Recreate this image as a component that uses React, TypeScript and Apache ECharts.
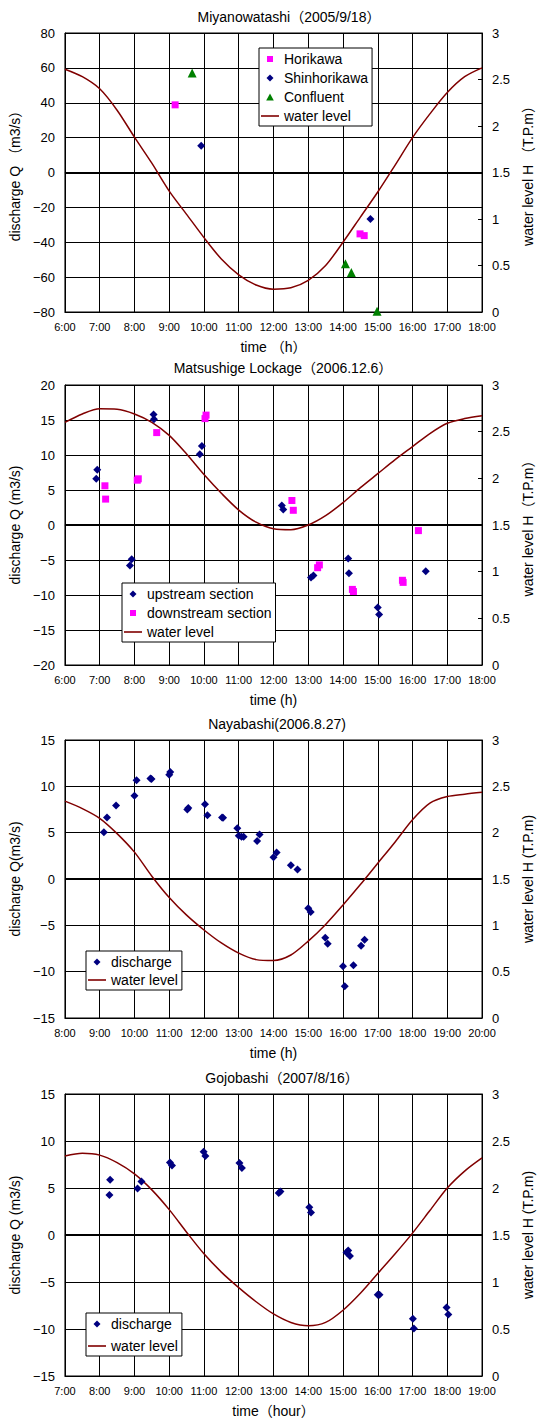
import React, { useEffect, useRef } from 'react';
import * as echarts from 'echarts';

const FONT = "'Liberation Sans', 'Noto Sans CJK JP', sans-serif";

// ---------- Panel 1: Miyanowatashi ----------
const miyaLevelTime = [6, 6.5, 7, 7.5, 8, 8.5, 9, 9.5, 10, 10.5, 11, 11.5, 12, 12.5, 13, 13.5, 14, 14.5, 15, 15.5, 16, 16.5, 17, 17.5, 18];
const miyaLevel = [2.61, 2.53, 2.4, 2.17, 1.88, 1.6, 1.3, 1.05, 0.8, 0.57, 0.4, 0.29, 0.245, 0.26, 0.34, 0.5, 0.75, 1.02, 1.29, 1.58, 1.875, 2.13, 2.36, 2.53, 2.625];
const horiT = [9.17, 14.49, 14.61];
const horiQ = [38.8, -35.2, -36.2];
const shinT = [9.92, 14.79];
const shinQ = [15.4, -26.7];
const confT = [9.66, 14.07, 14.24, 14.98];
const confQ = [57.0, -52.3, -57.4, -79.5];

// ---------- Panel 2: Matsushige Lockage ----------
const matsuLevelTime = [6, 6.5, 7, 7.5, 8, 8.5, 9, 9.5, 10, 10.5, 11, 11.5, 12, 12.5, 13, 13.5, 14, 14.5, 15, 15.5, 16, 16.5, 17, 17.5, 18];
const matsuLevel = [2.6, 2.69, 2.745, 2.74, 2.69, 2.6, 2.46, 2.26, 2.04, 1.84, 1.66, 1.53, 1.46, 1.45, 1.5, 1.6, 1.74, 1.9, 2.05, 2.2, 2.34, 2.48, 2.59, 2.64, 2.67];
const upT = [6.9, 6.93, 7.87, 7.92, 8.55, 8.56, 9.88, 9.94, 12.24, 12.28, 13.08, 13.15, 14.15, 14.17, 15.0, 15.04, 16.38];
const upQ = [6.6, 7.9, -5.8, -4.9, 15.8, 15.1, 10.1, 11.3, 2.8, 2.2, -7.5, -7.2, -4.8, -6.9, -11.8, -12.8, -6.6];
const downT = [7.15, 7.17, 8.08, 8.11, 8.64, 10.03, 10.06, 12.53, 12.57, 13.27, 13.32, 14.27, 14.3, 15.71, 15.73, 16.17];
const downQ = [5.6, 3.7, 6.4, 6.6, 13.2, 15.2, 15.7, 3.5, 2.1, -6.1, -5.7, -9.2, -9.5, -7.9, -8.2, -0.8];

// ---------- Panel 3: Nayabashi ----------
const nayaLevelTime = [8, 8.5, 9, 9.5, 10, 10.5, 11, 11.5, 12, 12.5, 13, 13.5, 14, 14.5, 15, 15.5, 16, 16.5, 17, 17.5, 18, 18.5, 19, 19.5, 20];
const nayaLevel = [2.34, 2.26, 2.155, 1.99, 1.79, 1.53, 1.3, 1.11, 0.95, 0.81, 0.7, 0.63, 0.62, 0.68, 0.83, 1.01, 1.22, 1.44, 1.67, 1.9, 2.14, 2.32, 2.39, 2.415, 2.435];
const nayaT = [9.12, 9.21, 9.47, 10.0, 10.06, 10.46, 10.49, 11.0, 11.03, 11.52, 11.55, 12.03, 12.1, 12.52, 12.55, 12.96, 13.0, 13.08, 13.14, 13.53, 13.6, 14.0, 14.09, 14.5, 14.69, 15.0, 15.07, 15.49, 15.56, 16.0, 16.05, 16.3, 16.52, 16.62];
const nayaQ = [5.05, 6.65, 7.93, 8.99, 10.65, 10.85, 10.78, 11.25, 11.55, 7.5, 7.65, 8.06, 6.87, 6.65, 6.6, 5.47, 4.67, 4.56, 4.55, 4.09, 4.8, 2.35, 2.87, 1.48, 1.02, -3.15, -3.55, -6.35, -6.98, -9.42, -11.58, -9.32, -7.19, -6.55];

// ---------- Panel 4: Gojobashi ----------
const gojoLevelTime = [7, 7.5, 8, 8.5, 9, 9.5, 10, 10.5, 11, 11.5, 12, 12.5, 13, 13.5, 14, 14.5, 15, 15.5, 16, 16.5, 17, 17.5, 18, 18.5, 19];
const gojoLevel = [2.34, 2.37, 2.35, 2.27, 2.15, 1.98, 1.77, 1.53, 1.3, 1.105, 0.94, 0.79, 0.66, 0.57, 0.535, 0.57, 0.7, 0.88, 1.09, 1.3, 1.52, 1.76, 2.0, 2.18, 2.32];
const gojoT = [8.28, 8.3, 9.09, 9.2, 10.02, 10.08, 10.99, 11.04, 12.02, 12.09, 13.15, 13.2, 14.03, 14.08, 15.1, 15.15, 15.2, 16.0, 16.05, 17.01, 17.04, 17.98, 18.03];
const gojoQ = [4.25, 5.89, 4.96, 5.68, 7.7, 7.39, 8.85, 8.4, 7.65, 7.14, 4.46, 4.64, 2.96, 2.39, -1.87, -1.66, -2.23, -6.36, -6.36, -8.9, -9.95, -7.7, -8.45];

const NAVY = '#000080';
const MAGENTA = '#FF00FF';
const GREEN = '#008000';
const RED = '#800000';

// Legend icons: the bounding frame (0..18 x 0..8) equals itemWidth x itemHeight, so nothing is stretched.
const FRAME = 'M0,0L0,0M18,8L18,8';
const LEGEND_ICONS: Record<string, string> = {
  line: 'path://M0,3.2L18,3.2L18,4.8L0,4.8Z',
  rect: `path://${FRAME}M6,1L12,1L12,7L6,7Z`,
  diamond: `path://${FRAME}M9,0.5L12.5,4L9,7.5L5.5,4Z`,
  triangle: `path://${FRAME}M9,0.5L12.8,7.5L5.2,7.5Z`,
};

const pairs = (xs: number[], ys: number[]) => xs.map((x, i) => [x, ys[i]]);

type SDef = { name: string; kind: 'scatter' | 'line'; x: number[]; y: number[]; symbol?: string; size?: number; color: string };

const panels = [
  {
    grid: { left: 63, top: 33, width: 429, height: 279 },
    xMin: 6, xMax: 18, yMin: -80, yMax: 80, yInt: 20,
    title: 'Miyanowatashi（2005/9/18）', titleX: 289, titleY: 17,
    yName: 'discharge Q （m3/s）', rName: 'water level H （T.P.m）', xName: 'time （h）',
    legend: { left: 259, top: 48, gap: 5 },
    series: [
      { name: 'Horikawa', kind: 'scatter', x: horiT, y: horiQ, symbol: 'rect', size: 7, color: MAGENTA },
      { name: 'Shinhorikawa', kind: 'scatter', x: shinT, y: shinQ, symbol: 'diamond', size: 8, color: NAVY },
      { name: 'Confluent', kind: 'scatter', x: confT, y: confQ, symbol: 'triangle', size: 9, color: GREEN },
      { name: 'water level', kind: 'line', x: miyaLevelTime, y: miyaLevel, color: RED },
    ] as SDef[],
  },
  {
    grid: { left: 58, top: 385, width: 432, height: 280 },
    xMin: 6, xMax: 18, yMin: -20, yMax: 20, yInt: 5,
    title: 'Matsushige Lockage（2006.12.6）', titleX: 283, titleY: 368,
    yName: 'discharge Q (m3/s)', rName: 'water level H（T.P.m）', xName: 'time (h)',
    legend: { left: 122, top: 583, gap: 5 },
    series: [
      { name: 'upstream section', kind: 'scatter', x: upT, y: upQ, symbol: 'diamond', size: 8, color: NAVY },
      { name: 'downstream section', kind: 'scatter', x: downT, y: downQ, symbol: 'rect', size: 7, color: MAGENTA },
      { name: 'water level', kind: 'line', x: matsuLevelTime, y: matsuLevel, color: RED },
    ] as SDef[],
  },
  {
    grid: { left: 64, top: 740, width: 427, height: 278 },
    xMin: 8, xMax: 20, yMin: -15, yMax: 15, yInt: 5,
    title: 'Nayabashi(2006.8.27)', titleX: 277, titleY: 724,
    yName: 'discharge Q(m3/s)', rName: 'water level H (T.P.m)', xName: 'time (h)',
    legend: { left: 86, top: 951, gap: 4 },
    series: [
      { name: 'discharge', kind: 'scatter', x: nayaT, y: nayaQ, symbol: 'diamond', size: 8, color: NAVY },
      { name: 'water level', kind: 'line', x: nayaLevelTime, y: nayaLevel, color: RED },
    ] as SDef[],
  },
  {
    grid: { left: 60, top: 1094, width: 430, height: 283 },
    xMin: 7, xMax: 19, yMin: -15, yMax: 15, yInt: 5,
    title: 'Gojobashi（2007/8/16）', titleX: 282, titleY: 1078,
    yName: 'discharge Q (m3/s)', rName: 'water level H (T.P.m)', xName: 'time（hour）',
    legend: { left: 86, top: 1313, gap: 8 },
    series: [
      { name: 'discharge', kind: 'scatter', x: gojoT, y: gojoQ, symbol: 'diamond', size: 8, color: NAVY },
      { name: 'water level', kind: 'line', x: gojoLevelTime, y: gojoLevel, color: RED },
    ] as SDef[],
  },
];

const minus = (v: number) => String(v).replace('-', '−');

function buildOption() {
  const grid = panels.map((p) => ({ ...p.grid, show: true, borderColor: '#000', borderWidth: 1, backgroundColor: '#fff', containLabel: false }));
  const xAxis = panels.map((p, i) => ({
    type: 'value', gridIndex: i, min: p.xMin, max: p.xMax, interval: 1,
    name: p.xName, nameLocation: 'middle', nameGap: 28,
    nameTextStyle: { fontSize: 14, color: '#000', fontFamily: FONT },
    axisLine: { show: true, onZero: false, lineStyle: { color: '#000', width: 1 } },
    axisTick: { show: false },
    axisLabel: { fontSize: 11, color: '#000', fontFamily: FONT, margin: 9, showMinLabel: true, showMaxLabel: true, formatter: (v: number) => `${v}:00` },
    splitLine: { show: true, lineStyle: { color: '#000', width: 1 } },
  }));
  const yAxis: any[] = [];
  panels.forEach((p, i) => {
    yAxis.push({
      type: 'value', gridIndex: i, position: 'left', min: p.yMin, max: p.yMax, interval: p.yInt,
      name: p.yName, nameLocation: 'middle', nameGap: 38,
      nameTextStyle: { fontSize: 14, color: '#000', fontFamily: FONT },
      axisLine: { show: true, onZero: false, lineStyle: { color: '#000', width: 1 } },
      axisTick: { show: false },
      axisLabel: { fontSize: 13, color: '#000', fontFamily: FONT, margin: 10, formatter: minus },
      splitLine: { show: true, lineStyle: { color: '#000', width: 1 } },
    });
    yAxis.push({
      type: 'value', gridIndex: i, position: 'right', min: 0, max: 3, interval: 0.5,
      name: p.rName, nameLocation: 'middle', nameGap: 36,
      nameTextStyle: { fontSize: 14, color: '#000', fontFamily: FONT },
      axisLine: { show: true, onZero: false, lineStyle: { color: '#000', width: 1 } },
      axisTick: { show: true, inside: true, length: 4, lineStyle: { color: '#000' } },
      axisLabel: { fontSize: 13, color: '#000', fontFamily: FONT, margin: 10 },
      splitLine: { show: false },
    });
  });
  const series: any[] = [];
  panels.forEach((p, i) => {
    p.series.forEach((s, k) => {
      if (s.kind === 'scatter') {
        const ser: any = {
          type: 'scatter', name: s.name, xAxisIndex: i, yAxisIndex: 2 * i,
          data: pairs(s.x, s.y), symbol: s.symbol, symbolSize: s.size,
          itemStyle: { color: s.color, opacity: 1 }, z: 4,
        };
        if (k === 0) {
          ser.markLine = {
            silent: true, symbol: 'none', label: { show: false },
            lineStyle: { color: '#000', width: 2, type: 'solid' },
            data: [{ yAxis: 0 }], z: 2,
          };
        }
        series.push(ser);
      } else {
        series.push({
          type: 'line', name: s.name, xAxisIndex: i, yAxisIndex: 2 * i + 1,
          data: pairs(s.x, s.y), smooth: 0.3, symbol: 'none', showSymbol: false,
          lineStyle: { color: s.color, width: 1.5 }, itemStyle: { color: s.color }, z: 3,
        });
      }
    });
  });
  const legend = panels.map((p) => ({
    orient: 'vertical', left: p.legend.left, top: p.legend.top,
    data: p.series.map((s) => ({ name: s.name, icon: LEGEND_ICONS[s.kind === 'line' ? 'line' : (s.symbol as string)] })),
    itemWidth: 18, itemHeight: 8, itemGap: p.legend.gap,
    padding: [4, 4, 3, 2], borderColor: '#000', borderWidth: 1, backgroundColor: '#fff',
    textStyle: { fontSize: 14, color: '#000', fontFamily: FONT, lineHeight: 14 },
    selectedMode: false, z: 10,
  }));
  const graphic = panels.map((p) => ({
    type: 'text', x: p.titleX, y: p.titleY,
    style: { text: p.title, fontSize: 14, fontFamily: FONT, fill: '#000', align: 'center', verticalAlign: 'middle' },
  }));
  return {
    animation: false,
    backgroundColor: '#fff',
    textStyle: { fontFamily: FONT, color: '#000' },
    grid, xAxis, yAxis, series, legend, graphic,
  };
}

export default function App() {
  const ref = useRef<HTMLDivElement>(null);
  useEffect(() => {
    if (!ref.current) return;
    const chart = echarts.init(ref.current, undefined, { renderer: 'svg' });
    chart.setOption(buildOption() as any);
    return () => chart.dispose();
  }, []);
  return <div ref={ref} style={{ position: 'absolute', left: 0, top: 0, width: 543, height: 1419, background: '#fff' }} />;
}
